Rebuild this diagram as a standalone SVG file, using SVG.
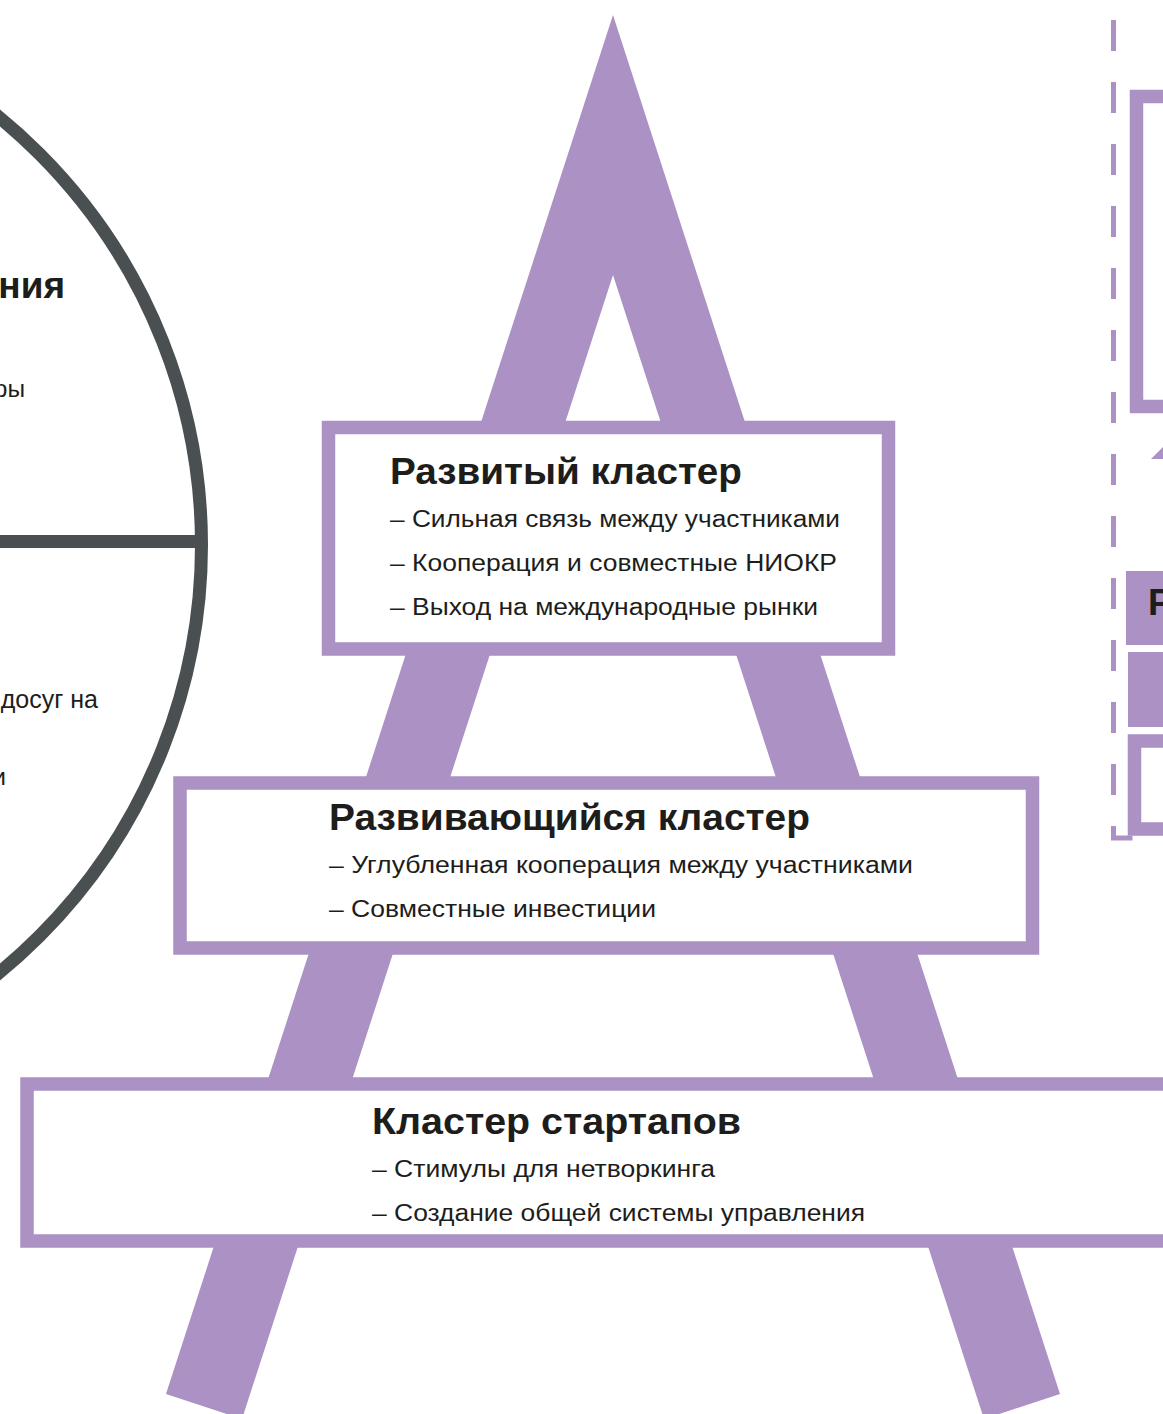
<svg xmlns="http://www.w3.org/2000/svg" width="1163" height="1414" viewBox="0 0 1163 1414">
<style>
.leg{fill:#ab91c4}
.box{fill:#ffffff;stroke:#ab91c4;stroke-width:13.5}
.pfill{fill:#ab91c4}
.title{font-family:"Liberation Sans","Noto Sans",sans-serif;font-weight:700;font-size:37px;fill:#1d1d1b}
.item{font-family:"Liberation Sans","Noto Sans",sans-serif;font-size:23px;fill:#1d1d1b}
.ring{fill:none;stroke:#4a4f52;stroke-width:13}
.dash{fill:none;stroke:#ab91c4;stroke-width:5;stroke-dasharray:31 31}
</style>
<rect width="1163" height="1414" fill="#ffffff"/>

<g id="left-circle">
  <circle class="ring" cx="-351.7" cy="545" r="553.2"/>
  <line x1="0" y1="541.5" x2="202" y2="541.5" stroke="#4a4f52" stroke-width="13"/>
  <text class="title" x="65" y="298" text-anchor="end">ния</text>
  <text class="item" x="25" y="397" text-anchor="end" style="font-size:24.5px">ры</text>
  <text class="item" x="98" y="708" text-anchor="end" style="font-size:25px">досуг на</text>
  <text class="item" x="6" y="785" text-anchor="end" style="font-size:24.5px">и</text>
</g>

<g id="a-frame">
  <polygon class="leg" points="613,15 166,1394 242,1419 613,275"/>
  <polygon class="leg" points="613,15 1060,1394 984,1419 613,275"/>
</g>

<g id="right-panel">
  <path class="dash" d="M1113.5,20 V838 H1200"/>
  <rect class="box" x="1136.5" y="96.5" width="200" height="310" stroke-width="13"/>
  <rect class="pfill" x="1126" y="571" width="60" height="74"/>
  <text class="title" x="1148" y="615">Р</text>
  <rect class="pfill" x="1128" y="652" width="60" height="75"/>
  <rect class="box" x="1134.5" y="741" width="200" height="88" stroke-width="13"/>
</g>

<g id="connectors">
  <polygon class="pfill" points="1151,459 1170,440 1189,459"/>
</g>

<g id="cluster-developed">
  <rect class="box" x="328.5" y="427.5" width="560" height="221.5"/>
  <text class="title" x="390" y="484" textLength="352" lengthAdjust="spacingAndGlyphs">Развитый кластер</text>
  <text class="item" x="390" y="527" textLength="450" lengthAdjust="spacingAndGlyphs">– Сильная связь между участниками</text>
  <text class="item" x="390" y="571" textLength="447" lengthAdjust="spacingAndGlyphs">– Кооперация и совместные НИОКР</text>
  <text class="item" x="390" y="615" textLength="428" lengthAdjust="spacingAndGlyphs">– Выход на международные рынки</text>
</g>

<g id="cluster-developing">
  <rect class="box" x="180" y="783" width="852.5" height="165"/>
  <text class="title" x="329" y="830" textLength="481" lengthAdjust="spacingAndGlyphs">Развивающийся кластер</text>
  <text class="item" x="329" y="873" textLength="584" lengthAdjust="spacingAndGlyphs">– Углубленная кооперация между участниками</text>
  <text class="item" x="329" y="917" textLength="327" lengthAdjust="spacingAndGlyphs">– Совместные инвестиции</text>
</g>

<g id="cluster-startups">
  <rect class="box" x="27" y="1084" width="1200" height="157"/>
  <text class="title" x="372" y="1134" textLength="369" lengthAdjust="spacingAndGlyphs">Кластер стартапов</text>
  <text class="item" x="372" y="1177" textLength="343" lengthAdjust="spacingAndGlyphs">– Стимулы для нетворкинга</text>
  <text class="item" x="372" y="1221" textLength="493" lengthAdjust="spacingAndGlyphs">– Создание общей системы управления</text>
</g>
</svg>
